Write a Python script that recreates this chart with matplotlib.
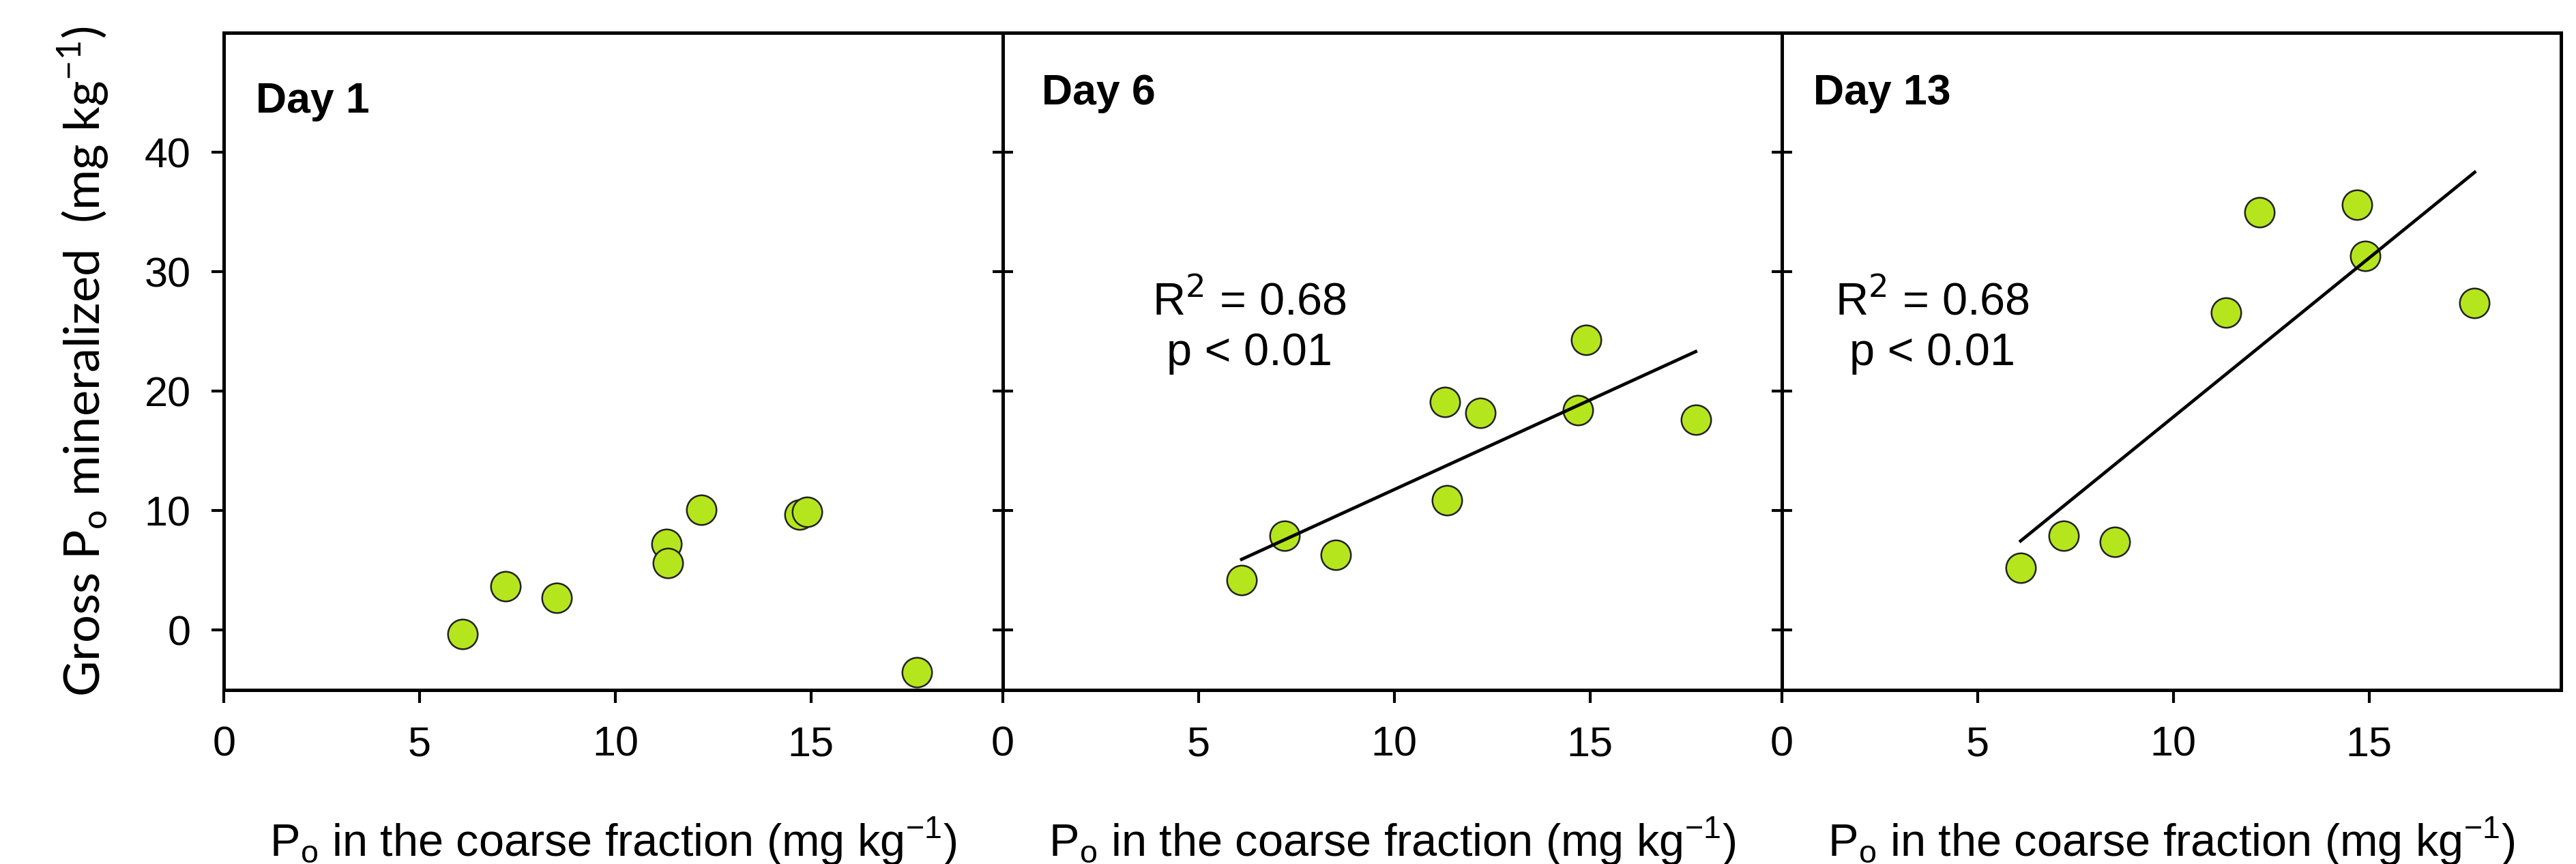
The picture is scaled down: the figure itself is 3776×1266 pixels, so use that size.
import numpy as np
import matplotlib
matplotlib.use("Agg")
import matplotlib.pyplot as plt

plt.rcParams["font.family"] = ["Liberation Sans", "DejaVu Sans"]

# =========================
# Data
# =========================
po_coarse = [6.1, 7.2, 8.5, 11.3, 11.35, 12.2, 14.7, 14.9, 17.7]

day1 = [-0.3, 3.7, 2.7, 7.2, 5.6, 10.1, 9.7, 9.9, -3.5]
day6 = [4.2, 7.9, 6.3, 19.1, 10.9, 18.2, 18.4, 24.3, 17.6]
day13 = [5.2, 7.9, 7.4, np.nan, 26.6, 35.0, 35.6, 31.3, 27.4]

panel_titles = ["Day 1", "Day 6", "Day 13"]
panel_series = [day1, day6, day13]
show_fit = [False, True, True]
fit_text = ["R$^2$ = 0.68", "p < 0.01"]
fit_text_x = [None, 6.3, 3.85]
fit_text_y = [26.4, 22.2]

x_ticks = [0, 5, 10, 15]
y_ticks = [0, 10, 20, 30, 40]

marker_color = "#b5e61d"

# =========================
# Figure
# =========================
fig = plt.figure(figsize=(37.76, 12.66), dpi=100)

left, bottom, width, height = 0.0869, 0.2014, 0.3024, 0.7607
title_pos = [(0.041, 0.878), (0.050, 0.891), (0.040, 0.891)]

axes = []
for i in range(3):
    ax = fig.add_axes([left + i * width, bottom, width, height])
    axes.append(ax)

    x = np.array(po_coarse)
    y = np.array(panel_series[i], dtype=float)
    ok = ~np.isnan(y)

    ax.scatter(x[ok], y[ok], s=980, color=marker_color, edgecolor="#222222",
               linewidth=1.8, zorder=3)

    # Linear trend line
    if show_fit[i]:
        z = np.polyfit(x[ok], y[ok], 1)
        p = np.poly1d(z)
        xs = np.array([x[ok].min(), x[ok].max()])
        ax.plot(xs, p(xs), color="black", linewidth=3.4, zorder=4)
        ax.text(fit_text_x[i], fit_text_y[0], fit_text[0], ha="center",
                va="baseline", fontsize=48)
        ax.text(fit_text_x[i], fit_text_y[1], fit_text[1], ha="center",
                va="baseline", fontsize=48)

    ax.text(title_pos[i][0], title_pos[i][1], panel_titles[i],
            transform=ax.transAxes, fontsize=45, fontweight="bold",
            va="baseline", ha="left")

    ax.set_xlim(0, 19.9)
    ax.set_ylim(-5, 50)
    ax.set_xticks(x_ticks)
    ax.set_yticks(y_ticks)

    for sp in ax.spines.values():
        sp.set_linewidth(3.6)

    ax.tick_params(axis="x", direction="out", length=13.5, width=3,
                   labelsize=44, pad=24)
    if i == 0:
        ax.tick_params(axis="y", direction="out", length=13, width=3,
                       labelsize=44, pad=22)
    else:
        ax.tick_params(axis="y", direction="inout", length=21, width=3,
                       labelleft=False)

    ax.set_xlabel(r"$\mathregular{P_o}$ in the coarse fraction (mg kg$^{\mathregular{-1}}$)",
                  fontsize=48)
    ax.xaxis.label.set_va("baseline")
    ax.xaxis.set_label_coords(0.5, -0.253)

axes[0].set_ylabel(r"Gross $\mathregular{P_o}$ mineralized  (mg kg$^{\mathregular{-1}}$)",
                   fontsize=52, family=["Lato", "DejaVu Sans"])
axes[0].yaxis.label.set_va("center")
axes[0].yaxis.set_label_coords(-0.181, 0.5)

plt.savefig("out.png", dpi=100)
